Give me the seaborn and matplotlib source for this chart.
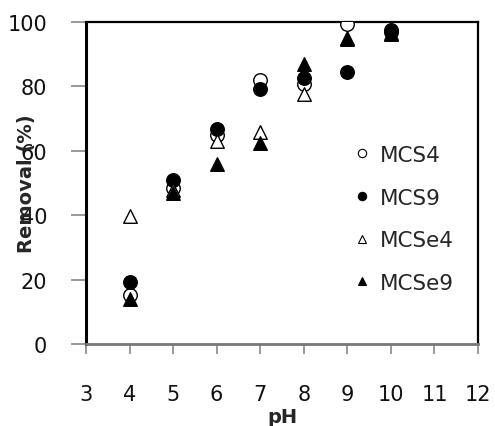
import matplotlib
matplotlib.use("Agg")
import matplotlib.pyplot as plt
import seaborn as sns
import pandas as pd
from matplotlib.lines import Line2D

sns.set_theme(style="white")
plt.rcParams['font.family'] = ['DejaVu Sans']

ph = [4, 5, 6, 7, 8, 9, 10]
mcs4 = [15.2, 48.5, 65.0, 82.0, 80.7, 99.4, 97.0]
mcs9 = [19.3, 50.8, 66.8, 79.3, 82.6, 84.5, 97.5]
mcse4 = [39.8, 47.8, 63.0, 65.8, 77.5, 95.0, 96.5]
mcse9 = [14.0, 47.0, 55.8, 62.5, 87.0, 94.8, 96.3]

series = ["MCS4", "MCS9", "MCSe4", "MCSe9"]
values = [mcs4, mcs9, mcse4, mcse9]
xticks = [3, 4, 5, 6, 7, 8, 9, 10, 11, 12]
yticks = [0, 20, 40, 60, 80, 100]

styles = {
    "MCS4": dict(marker="o", facecolor="white"),
    "MCS9": dict(marker="o", facecolor="black"),
    "MCSe4": dict(marker="^", facecolor="white"),
    "MCSe9": dict(marker="^", facecolor="black"),
}

fig = plt.figure(figsize=(4.95, 4.27), dpi=100)
ax = fig.add_axes([86/495, 1-345/427, (478-86)/495, (345-23)/427])

for name, vals in zip(series, values):
    df = pd.DataFrame({"pH": ph, "Removal": vals})
    st = styles[name]
    sns.scatterplot(data=df, x="pH", y="Removal", ax=ax, marker=st["marker"],
                    color=st["facecolor"], edgecolor="black", linewidth=1.0,
                    s=95, zorder=3, legend=False)

ax.set_xlim(3, 12)
ax.set_ylim(0, 100)
ax.set_xticks(xticks)
ax.set_yticks(yticks)
ax.set_xticklabels([str(t) for t in xticks], fontsize=15, color="#111111")
ax.set_yticklabels([str(t) for t in yticks], fontsize=15, color="#111111")
ax.tick_params(axis="x", direction="out", length=7, width=1.2, color="#888888", pad=22, bottom=True)
ax.tick_params(axis="y", direction="out", length=11, width=1.2, color="#888888", pad=17, left=True)

for side in ["left", "top", "right"]:
    ax.spines[side].set_color("black")
    ax.spines[side].set_linewidth(1.6)
ax.spines["left"].set_linewidth(2.2)
ax.spines["bottom"].set_color("#777777")
ax.spines["bottom"].set_linewidth(2.0)

ax.set_xlabel("pH", fontsize=14, fontweight="bold", labelpad=0)
ax.set_ylabel("Removal (%)", fontsize=14, fontweight="bold")
ax.yaxis.set_label_coords(-0.128, 0.5)
ax.xaxis.set_label_coords(0.5, -0.197)

handles = []
for name in series:
    st = styles[name]
    handles.append(Line2D([], [], linestyle="none", marker=st["marker"],
                          markerfacecolor=st["facecolor"], markeredgecolor="black",
                          markeredgewidth=0.8, markersize=6))
leg = ax.legend(handles, series, loc="upper left",
                bbox_to_anchor=(353/495, 1-146/427), bbox_transform=fig.transFigure,
                frameon=False, fontsize=15.5, handlelength=0.8, handletextpad=0.45,
                labelspacing=1.05, borderpad=0, borderaxespad=0)

fig.savefig("out.png", dpi=100)
